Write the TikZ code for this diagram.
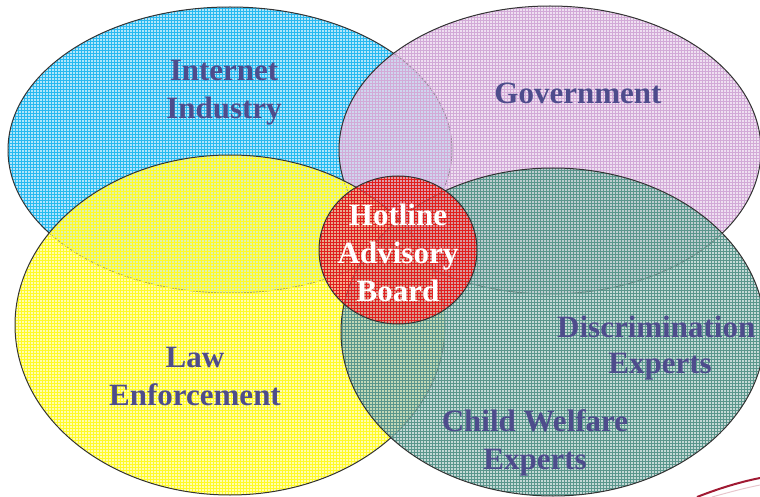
\documentclass[tikz,border=0pt]{standalone}
\usepackage{fontspec}
\setmainfont{Liberation Serif}
\usepackage{tikz}
\usetikzlibrary{patterns}
\definecolor{mtext}{RGB}{78,76,140}
\definecolor{mblue}{RGB}{40,185,240}
\definecolor{mpink}{RGB}{210,170,215}
\definecolor{myellow}{RGB}{255,250,40}
\definecolor{mteal}{RGB}{90,150,140}
\definecolor{mred}{RGB}{225,30,30}
\definecolor{mswoosh}{RGB}{160,25,50}
\tikzset{venn/.style = {preaction={fill=#1!60, fill opacity=0.6},
                        pattern=grid, pattern color=#1, fill opacity=0.6,
                        draw=black!80, draw opacity=1, line width=1pt}}
\tikzset{lbl/.style = {text=mtext, font=\fontsize{31}{38}\selectfont\bfseries,
                       align=center, inner sep=0}}

\begin{document}
\begin{tikzpicture}[x=1pt, y=-1pt]
      \useasboundingbox (0, 0) rectangle (760, 497);

      \draw [venn=mblue] (230, 150) ellipse [x radius=222pt, y radius=143pt];
      \draw [venn=mpink] (550, 150) ellipse [x radius=211pt, y radius=144pt];
      \draw [venn=myellow] (230, 325) ellipse [x radius=215pt, y radius=170pt];
      \draw [venn=mteal] (553, 332) ellipse [x radius=212pt, y radius=164pt];
      \draw [venn=mred, fill opacity=0.75] (398, 250) ellipse [x radius=79pt, y radius=74pt];

      \node [lbl] (internet) at (224, 93) {Internet\\Industry};
      \node [lbl] (government) at (578, 93) {Government};
      \node [lbl] (law) at (195, 376) {Law\\Enforcement};
      \node [lbl, anchor=west] (discrim) at (557, 327) {Discrimination};
      \node [lbl] (expertsa) at (660, 367) {Experts};
      \node [lbl] (child) at (535, 443) {Child Welfare\\Experts};
      \node [lbl, text=white] (hotline) at (398, 253) {Hotline\\Advisory\\Board};

      \draw [mswoosh, line width=2pt] (697, 497) .. controls (720, 488) and (740, 482) .. (760, 478);
      \draw [mswoosh!25, line width=1pt] (712, 497) .. controls (730, 492) and (745, 488) .. (760, 485);
    \end{tikzpicture}
\end{document}
